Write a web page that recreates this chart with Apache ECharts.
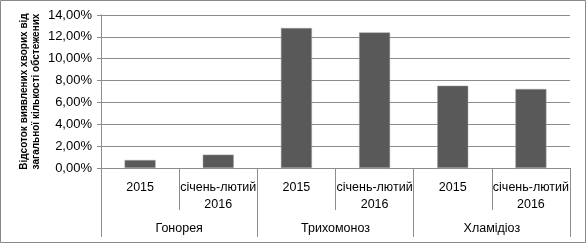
<!DOCTYPE html>
<html><head><meta charset="utf-8">
<script src="https://cdn.jsdelivr.net/npm/echarts@6/dist/echarts.min.js"></script>
<style>html,body{margin:0;padding:0;background:#fff}#c{width:586px;height:243px}</style>
</head><body><div id="c"></div>
<script>
const categories = ['2015', 'січень-лютий\n2016', '2015', 'січень-лютий\n2016', '2015', 'січень-лютий\n2016'];
const groups = ['Гонорея', 'Трихомоноз', 'Хламідіоз'];
const values = [0.73, 1.22, 12.81, 12.41, 7.53, 7.23];
const yTitle = 'Відсоток виявлених хворих від\nзагальної кількості обстежених';

const chart = echarts.init(document.getElementById('c'), null, {renderer: 'canvas'});
const font = 'Liberation Sans';
const gray = '#8c8c8c';
chart.setOption({
  animation: false,
  graphic: [{type: 'rect', shape: {x: 0.5, y: 0.5, width: 585, height: 242}, style: {fill: 'none', stroke: '#888', lineWidth: 1}, silent: true}],
  grid: {left: 101, right: 16, top: 15, bottom: 75},
  xAxis: [
    {type: 'category', data: categories, position: 'bottom',
     axisLine: {show: true, lineStyle: {color: gray}},
     axisTick: {show: true, interval: 0, length: 42, lineStyle: {color: gray}},
     axisLabel: {color: '#000', fontFamily: font, fontSize: 12.5, margin: 11, lineHeight: 17, interval: 0}},
    {type: 'category', data: groups, position: 'bottom',
     axisLine: {show: false},
     axisTick: {show: true, interval: 0, length: 69, lineStyle: {color: gray}},
     axisLabel: {color: '#000', fontFamily: font, fontSize: 12.5, margin: 54, interval: 0}}
  ],
  yAxis: {type: 'value', min: 0, max: 14, interval: 2,
    name: yTitle, nameLocation: 'middle', nameRotate: 90, nameGap: 59, nameMoveOverlap: false,
    nameTextStyle: {color: '#000', fontFamily: font, fontSize: 10, fontWeight: 'bold', lineHeight: 12},
    axisLine: {show: true, lineStyle: {color: gray}},
    axisTick: {show: true, length: 4, lineStyle: {color: gray}},
    splitLine: {lineStyle: {color: gray}},
    axisLabel: {color: '#000', fontFamily: font, fontSize: 13, margin: 9,
      formatter: v => v.toFixed(2).replace('.', ',') + '%'}},
  series: [{type: 'bar', data: values, barWidth: 31, xAxisIndex: 0,
    itemStyle: {color: '#595959', borderColor: '#a0a0a0', borderWidth: 0.5}}]
});
</script></body></html>
